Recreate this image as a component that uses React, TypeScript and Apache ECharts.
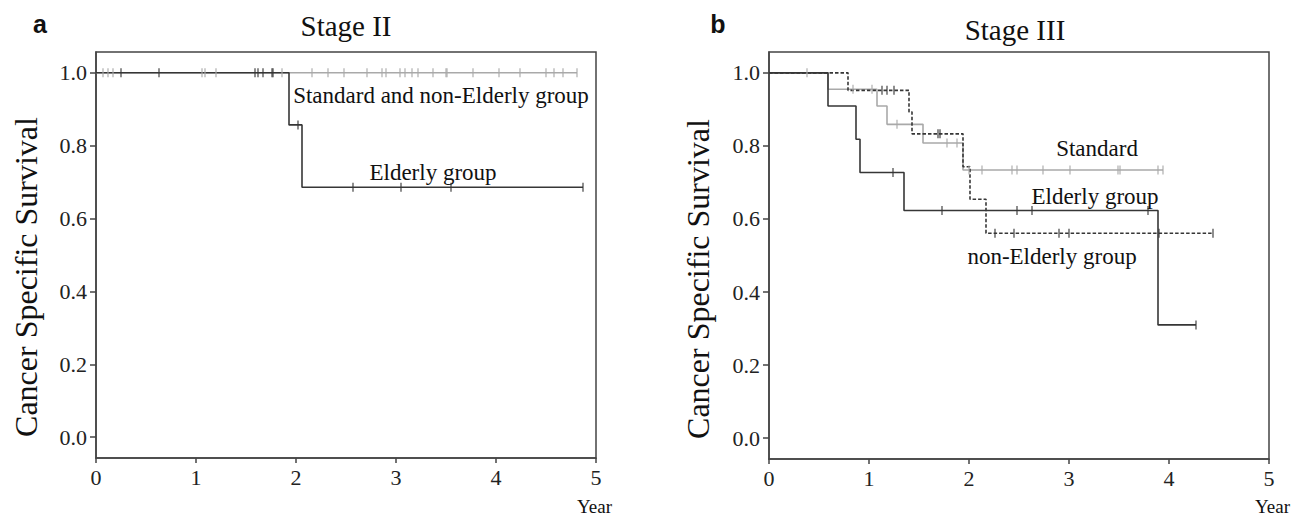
import React, { useEffect, useRef } from "react";
import * as echarts from "echarts";

// ---------- Data ----------
const xTicks = [0, 1, 2, 3, 4, 5];
const yTicks = [0, 0.2, 0.4, 0.6, 0.8, 1.0];

// Panel a (Stage II)
const aStdTimes = [0, 4.81];
const aStdSurv = [1, 1];
const aStdCensor = [0.07, 0.12, 0.17, 1.06, 1.09, 1.2, 1.86, 2.16, 2.32, 2.48, 2.71, 2.86, 2.9, 3.04, 3.09, 3.16, 3.22, 3.37, 3.5, 3.51, 3.77, 4.03, 4.24, 4.5, 4.58, 4.67, 4.81];
const aEldTimes = [0, 1.93, 2.06, 4.87];
const aEldSurv = [1, 0.857, 0.686, 0.686];
const aEldCensor = [0.25, 0.63, 1.59, 1.62, 1.67, 1.76, 1.77, 2.02, 2.57, 3.05, 3.55, 4.87];

// Panel b (Stage III)
const bStdTimes = [0, 0.59, 1.08, 1.18, 1.54, 1.94, 3.94];
const bStdSurv = [1, 0.955, 0.909, 0.859, 0.808, 0.734, 0.734];
const bStdCensor = [0.38, 0.84, 1.03, 1.28, 1.78, 1.88, 2.0, 2.13, 2.43, 2.48, 2.74, 3.01, 3.49, 3.51, 3.89, 3.94];
const bEldTimes = [0, 0.59, 0.87, 0.91, 1.35, 3.89, 4.27];
const bEldSurv = [1, 0.909, 0.818, 0.727, 0.623, 0.31, 0.31];
const bEldCensor = [1.24, 1.73, 2.48, 2.63, 3.79, 4.27];
const bNonTimes = [0, 0.79, 1.4, 1.43, 1.94, 2.01, 2.17, 4.44];
const bNonSurv = [1, 0.952, 0.893, 0.833, 0.743, 0.654, 0.561, 0.561];
const bNonCensor = [1.13, 1.18, 1.25, 1.69, 1.71, 2.26, 2.45, 2.9, 3.0, 3.9, 4.44];

const DARK = "#363636";
const LIGHT = "#a9a9a9";
const SERIF_NAME = "Liberation Serif";
const SERIF = "'Liberation Serif', serif";
const SANS = "'Liberation Sans', sans-serif";

function pairs(times: number[], surv: number[]) {
  return times.map((t, i) => [t, surv[i]]);
}
function survAt(times: number[], surv: number[], t: number) {
  let v = surv[0];
  for (let i = 0; i < times.length; i++) if (times[i] <= t + 1e-9) v = surv[i];
  return v;
}

function curve(idx: number, times: number[], surv: number[], color: string, dashed = false) {
  return {
    type: "line",
    xAxisIndex: idx,
    yAxisIndex: idx,
    step: "end",
    symbol: "none",
    showSymbol: false,
    data: pairs(times, surv),
    lineStyle: { color, width: 1.6, type: dashed ? [3.5, 2] : "solid" },
    z: 3,
  };
}
function censor(idx: number, times: number[], surv: number[], ct: number[], color: string) {
  return {
    type: "scatter",
    xAxisIndex: idx,
    yAxisIndex: idx,
    symbol: "rect",
    symbolSize: [1.4, 9],
    data: ct.map((t) => [t, survAt(times, surv, t)]),
    itemStyle: { color },
    z: 4,
  };
}

function xAxis(idx: number) {
  return {
    gridIndex: idx,
    type: "value",
    min: xTicks[0],
    max: xTicks[xTicks.length - 1],
    interval: 1,
    axisLine: { show: true, onZero: false, lineStyle: { color: "#444", width: 1.5 } },
    axisTick: { show: true, length: 5, lineStyle: { color: "#444", width: 1.5 } },
    axisLabel: { fontSize: 22, color: "#222", fontFamily: SERIF_NAME, margin: 8 },
    splitLine: { show: false },
  };
}
function yAxis(idx: number) {
  return {
    gridIndex: idx,
    type: "value",
    min: -0.057,
    max: 1.057,
    axisLine: { show: true, onZero: false, lineStyle: { color: "#444", width: 1.5 } },
    axisTick: { show: true, length: 6, customValues: yTicks, lineStyle: { color: "#444", width: 1.5 } },
    axisLabel: {
      customValues: yTicks,
      formatter: (v: number) => v.toFixed(1),
      fontSize: 22,
      color: "#222",
      fontFamily: SERIF_NAME,
      margin: 9,
    },
    splitLine: { show: false },
  };
}

function txt(x: number, y: number, text: string, size: number, opts: any = {}) {
  return {
    type: "text",
    x,
    y,
    rotation: opts.rotation || 0,
    z: 10,
    style: {
      text,
      fill: opts.fill || "#111",
      font: `${opts.bold ? "bold " : ""}${size}px ${opts.family || SERIF}`,
      align: opts.align || "center",
      verticalAlign: "middle",
    },
  };
}

export default function App() {
  const ref = useRef<HTMLDivElement>(null);
  useEffect(() => {
    if (!ref.current) return;
    const chart = echarts.init(ref.current, null, { renderer: "svg" });
    chart.setOption({
      animation: false,
      backgroundColor: "#fff",
      textStyle: { fontFamily: SERIF_NAME },
      grid: [
        { left: 96, right: 708, top: 52, bottom: 60, show: true, borderColor: "#444", borderWidth: 1.5, backgroundColor: "transparent" },
        { left: 769, right: 35, top: 52, bottom: 59, show: true, borderColor: "#444", borderWidth: 1.5, backgroundColor: "transparent" },
      ],
      xAxis: [xAxis(0), xAxis(1)],
      yAxis: [yAxis(0), yAxis(1)],
      series: [
        curve(0, aStdTimes, aStdSurv, LIGHT),
        censor(0, aStdTimes, aStdSurv, aStdCensor, LIGHT),
        curve(0, aEldTimes, aEldSurv, DARK),
        censor(0, aEldTimes, aEldSurv, aEldCensor, DARK),
        curve(1, bStdTimes, bStdSurv, LIGHT),
        censor(1, bStdTimes, bStdSurv, bStdCensor, LIGHT),
        curve(1, bEldTimes, bEldSurv, DARK),
        censor(1, bEldTimes, bEldSurv, bEldCensor, DARK),
        curve(1, bNonTimes, bNonSurv, DARK, true),
        censor(1, bNonTimes, bNonSurv, bNonCensor, DARK),
      ],
      graphic: [
        txt(40, 24, "a", 25, { bold: true, family: SANS }),
        txt(718, 24, "b", 25, { bold: true, family: SANS }),
        txt(346, 26, "Stage II", 29),
        txt(1015, 30, "Stage III", 29),
        txt(26, 277, "Cancer Specific Survival", 32, { rotation: Math.PI / 2 }),
        txt(698, 279, "Cancer Specific Survival", 32, { rotation: Math.PI / 2 }),
        txt(612, 506, "Year", 19, { align: "right" }),
        txt(1290, 506, "Year", 19, { align: "right" }),
        txt(441, 95, "Standard and non-Elderly group", 23),
        txt(433, 172, "Elderly group", 23),
        txt(1097, 148, "Standard", 23),
        txt(1095, 196, "Elderly group", 23),
        txt(1052, 256, "non-Elderly group", 23),
      ],
    });
    return () => chart.dispose();
  }, []);
  return (
    <div
      ref={ref}
      style={{ position: "fixed", left: 0, top: 0, width: 1304, height: 518, background: "#fff" }}
    />
  );
}
